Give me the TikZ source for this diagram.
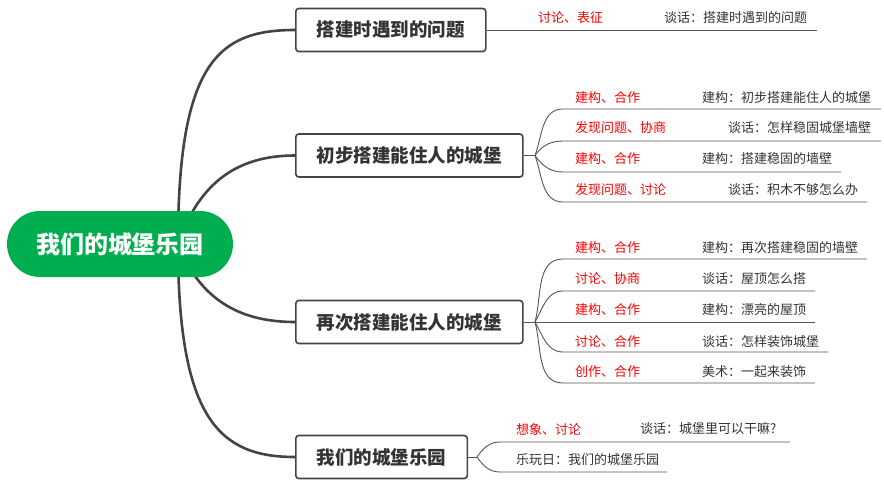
\documentclass[tikz,border=0pt]{standalone}
\usepackage{fontspec}
\setmainfont{Noto Sans CJK SC}
\usetikzlibrary{calc}
\definecolor{rootgreen}{RGB}{0,173,79}
\definecolor{trunkgray}{RGB}{68,68,68}
\definecolor{twiggray}{RGB}{85,85,85}
\definecolor{txtgray}{RGB}{51,51,51}
\tikzset{
  rootbox/.style={fill=rootgreen,rounded corners=33pt,minimum width=226pt,minimum height=66pt,text=white,font=\fontsize{24}{28}\selectfont\bfseries},
  topicbox/.style={draw=trunkgray,line width=1.6pt,rounded corners=3pt,fill=white,minimum height=43pt,inner xsep=21pt,anchor=west,text=txtgray,font=\fontsize{18.5}{22}\selectfont\bfseries},
  tag/.style={anchor=west,inner sep=0pt,text=red,font=\fontsize{13}{15}\selectfont},
  note/.style={anchor=west,inner sep=0pt,text=txtgray,font=\fontsize{13}{15}\selectfont},
  trunk/.style={draw=trunkgray,line width=2.6pt},
  twig/.style={draw=twiggray,line width=0.9pt}
}

\begin{document}
\begin{tikzpicture}[x=1pt,y=-1pt]
  \useasboundingbox (0,0) rectangle (884,487);
  % topics
  \node[topicbox] (b1) at (295,30) {搭建时遇到的问题};
  \node[topicbox] (b2) at (295,155.5) {初步搭建能住人的城堡};
  \node[topicbox] (b3) at (295,322) {再次搭建能住人的城堡};
  \node[topicbox] (b4) at (295,457) {我们的城堡乐园};
  % trunks from the root
  \coordinate (hub) at (178,244);
  \draw[trunk] (hub) .. controls ($(hub)+(0,-184)$) and ($(b1.west)+(-75,0)$) .. (b1.west);
  \draw[trunk] (hub) .. controls ($(hub)+(22,-64)$) and ($(b2.west)+(-55,0)$) .. (b2.west);
  \draw[trunk] (hub) .. controls ($(hub)+(22,56)$) and ($(b3.west)+(-55,0)$) .. (b3.west);
  \draw[trunk] (hub) .. controls ($(hub)+(0,176)$) and ($(b4.west)+(-75,0)$) .. (b4.west);
  \node[rootbox] (root) at (120,244) {我们的城堡乐园};

  % 搭建时遇到的问题
  \coordinate (z11) at (817,30);
  \draw[twig] (b1.east) -- (z11);
  \node[tag] (t11) at (538,18) {讨论、表征}; \node[note] (n11) at (664,18) {谈话：搭建时遇到的问题};

  % 初步搭建能住人的城堡
  \coordinate (f2) at (535,155.5);
  \draw[twig] (b2.east) -- (f2);
  \coordinate (a21) at (563,109); \coordinate (z21) at (881,109);
  \coordinate (a22) at (563,141); \coordinate (z22) at (881,141);
  \coordinate (a23) at (563,172); \coordinate (z23) at (841,172);
  \coordinate (a24) at (563,202); \coordinate (z24) at (867,202);
  \draw[twig] (f2) to[out=70,in=180] (a21) -- (z21);
  \draw[twig] (f2) to[out=55,in=180] (a22) -- (z22);
  \draw[twig] (f2) to[out=-55,in=180] (a23) -- (z23);
  \draw[twig] (f2) to[out=-70,in=180] (a24) -- (z24);
  \node[tag] (t21) at (575,98) {建构、合作}; \node[note] (n21) at (702,98) {建构：初步搭建能住人的城堡};
  \node[tag] (t22) at (575,128) {发现问题、协商}; \node[note] (n22) at (728,128) {谈话：怎样稳固城堡墙壁};
  \node[tag] (t23) at (575,159) {建构、合作}; \node[note] (n23) at (702,159) {建构：搭建稳固的墙壁};
  \node[tag] (t24) at (575,190) {发现问题、讨论}; \node[note] (n24) at (728,190) {谈话：积木不够怎么办};

  % 再次搭建能住人的城堡
  \coordinate (f3) at (535,322);
  \draw[twig] (b3.east) -- (f3);
  \coordinate (a31) at (563,259); \coordinate (z31) at (867,259);
  \coordinate (a32) at (563,291); \coordinate (z32) at (815,291);
  \coordinate (z33) at (815,322);
  \coordinate (a34) at (563,352); \coordinate (z34) at (828,352);
  \coordinate (a35) at (563,383); \coordinate (z35) at (815,383);
  \draw[twig] (f3) to[out=75,in=180] (a31) -- (z31);
  \draw[twig] (f3) to[out=60,in=180] (a32) -- (z32);
  \draw[twig] (f3) -- (z33);
  \draw[twig] (f3) to[out=-60,in=180] (a34) -- (z34);
  \draw[twig] (f3) to[out=-75,in=180] (a35) -- (z35);
  \node[tag] (t31) at (575,248) {建构、合作}; \node[note] (n31) at (702,248) {建构：再次搭建稳固的墙壁};
  \node[tag] (t32) at (575,279) {讨论、协商}; \node[note] (n32) at (702,279) {谈话：屋顶怎么搭};
  \node[tag] (t33) at (575,310) {建构、合作}; \node[note] (n33) at (702,310) {建构：漂亮的屋顶};
  \node[tag] (t34) at (575,342) {讨论、合作}; \node[note] (n34) at (702,342) {谈话：怎样装饰城堡};
  \node[tag] (t35) at (575,372) {创作、合作}; \node[note] (n35) at (702,372) {美术：一起来装饰};

  % 我们的城堡乐园
  \coordinate (f4) at (477,457);
  \draw[twig] (b4.east) -- (f4);
  \coordinate (a41) at (500,442); \coordinate (z41) at (790,442);
  \coordinate (a42) at (500,472); \coordinate (z42) at (667,472);
  \draw[twig] (f4) to[out=55,in=180] (a41) -- (z41);
  \draw[twig] (f4) to[out=-55,in=180] (a42) -- (z42);
  \node[tag] (t41) at (516,429) {想象、讨论}; \node[note] (n41) at (640,429) {谈话：城堡里可以干嘛?};
  \node[note] (n42) at (516,460) {乐玩日：我们的城堡乐园};
\end{tikzpicture}
\end{document}
